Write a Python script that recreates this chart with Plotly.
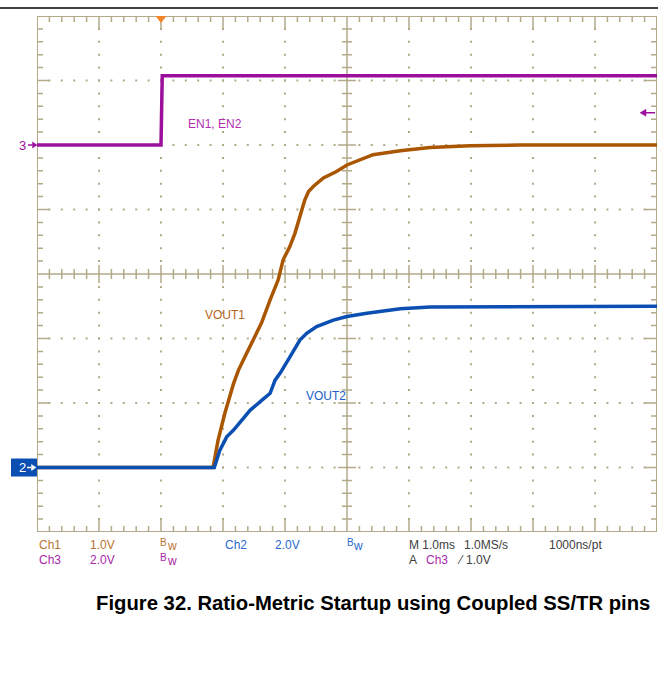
import plotly.graph_objects as go

# ---- canvas / plot-area geometry (pixels) ----
W, H = 658, 677
L, R, T, B = 37, 1, 16, 145
PW = W - L - R          # plot width
PH = H - T - B          # plot height

# ---- scope setup ----
T_START, T_END = -2.0, 8.0      # ms, 1 ms/div, trigger 2 div from left
N_HDIV, N_VDIV = 10, 8
CH1_SCALE, CH1_GND = 1.0, 1.0   # VOUT1: 1.0 V/div
CH2_SCALE, CH2_GND = 2.0, 1.0   # VOUT2: 2.0 V/div
CH3_SCALE, CH3_GND = 2.0, 6.0   # EN1/EN2: 2.0 V/div
TRIG_LEVEL = 1.0                # V on Ch3

# ---- captured waveforms (time in ms, amplitude in V) ----
en_t = [-2.0, 0.0, 0.02, 8.0]
en_v = [0.0, 0.0, 2.15, 2.15]

vout1_t = [-2.0, 0.84, 0.92, 1.03, 1.17, 1.25, 1.33, 1.49, 1.62, 1.76, 1.89,
           1.97, 2.08, 2.16, 2.24, 2.32, 2.38, 2.46, 2.62, 2.83, 3.00, 3.21,
           3.42, 3.86, 4.34, 4.98, 5.79, 8.0]
vout1_v = [0.0, 0.0, 0.42, 0.84, 1.30, 1.51, 1.67, 1.98, 2.24, 2.60, 2.91,
           3.22, 3.43, 3.63, 3.89, 4.15, 4.28, 4.36, 4.49, 4.59, 4.69, 4.77,
           4.85, 4.91, 4.96, 4.99, 5.0, 5.0]

vout2_t = [-2.0, 0.86, 0.95, 1.06, 1.17, 1.33, 1.44, 1.60, 1.76, 1.84, 1.92,
           2.08, 2.24, 2.35, 2.51, 2.78, 3.00, 3.32, 3.86, 4.34, 5.15, 8.0]
vout2_v = [0.0, 0.0, 0.54, 0.95, 1.16, 1.52, 1.78, 2.04, 2.30, 2.71, 2.92,
           3.43, 3.95, 4.16, 4.37, 4.57, 4.68, 4.78, 4.92, 4.98, 4.99, 5.0]

# ---- colours ----
FRAME = "#b3aa8a"
C_EN = "#9c0f9c"
C_V1 = "#aa5500"
C_V2 = "#0b4fb3"
T_CH1 = "#b87333"
T_CH2 = "#2a6ad0"
T_CH3 = "#a828a8"
T_GRAY = "#404040"


def to_div(values, scale, gnd):
    return [gnd + v / scale for v in values]


def px_x(px):
    return (px - L) / PW


def px_y(py):
    return (H - B - py) / PH


XU = PW / N_HDIV   # px per ms
YU = PH / N_VDIV   # px per division

fig = go.Figure()

# dotted graticule: dots every 1/5 division along the major lines
gx, gy = [], []
for i in range(1, N_HDIV):
    if i == N_HDIV // 2:
        continue
    for j in range(1, N_VDIV * 5):
        gx.append(T_START + i)
        gy.append(j * 0.2)
for j in range(1, N_VDIV):
    if j == N_VDIV // 2:
        continue
    for i in range(1, N_HDIV * 5):
        gx.append(T_START + i * 0.2)
        gy.append(j)
fig.add_trace(go.Scatter(x=gx, y=gy, mode="markers",
                         marker=dict(symbol="square", size=2, color=FRAME),
                         hoverinfo="skip"))

# frame ticks and centre crosshair
segs = []
for i in range(0, N_HDIV * 5 + 1):
    x = T_START + i * 0.2
    ln = (12 if i % 5 == 0 else 6) / YU
    segs.append(f"M{x},{N_VDIV} L{x},{N_VDIV - ln}")
    segs.append(f"M{x},0 L{x},{ln}")
    c = (9 if i % 5 == 0 else 5) / YU
    segs.append(f"M{x},{N_VDIV / 2 - c} L{x},{N_VDIV / 2 + c}")
for j in range(0, N_VDIV * 5 + 1):
    y = j * 0.2
    ln = (12 if j % 5 == 0 else 6) / XU
    segs.append(f"M{T_START},{y} L{T_START + ln},{y}")
    segs.append(f"M{T_END},{y} L{T_END - ln},{y}")
    c = (9 if j % 5 == 0 else 5) / XU
    xc = (T_START + T_END) / 2
    segs.append(f"M{xc - c},{y} L{xc + c},{y}")
segs.append(f"M{T_START},{N_VDIV / 2} L{T_END},{N_VDIV / 2}")
segs.append(f"M{(T_START + T_END) / 2},0 L{(T_START + T_END) / 2},{N_VDIV}")

# pixel rows of the channel markers
y2 = (N_VDIV - CH2_GND) * YU + T
y3 = (N_VDIV - CH3_GND) * YU + T
yt = (N_VDIV - CH3_GND - TRIG_LEVEL / CH3_SCALE) * YU + T


def arrow(x_tail, x_head, py, color, head=4.5, half=3.0, width=1.5):
    """Horizontal arrow in pixel space: shaft line plus filled head."""
    d = 1 if x_head > x_tail else -1
    xb = x_head - d * head
    return [
        dict(type="line", xref="paper", yref="paper",
             x0=px_x(x_tail), x1=px_x(xb), y0=px_y(py), y1=px_y(py),
             line=dict(color=color, width=width)),
        dict(type="path", xref="paper", yref="paper",
             path=(f"M{px_x(x_head)},{px_y(py)} L{px_x(xb)},{px_y(py - half)} "
                   f"L{px_x(xb)},{px_y(py + half)} Z"),
             fillcolor=color, line=dict(color=color, width=0.5)),
    ]


shapes = [
    dict(type="path", path=" ".join(segs), xref="x", yref="y",
         line=dict(color=FRAME, width=1.5), layer="below"),
    dict(type="rect", x0=T_START, x1=T_END, y0=0, y1=N_VDIV, xref="x", yref="y",
         line=dict(color=FRAME, width=2), layer="below"),
    # trigger position marker
    dict(type="path", xref="x", yref="y",
         path=f"M{-5.5 / XU},{N_VDIV} L{5.5 / XU},{N_VDIV} L0,{N_VDIV - 7 / YU} Z",
         fillcolor="#f5852a", line=dict(color="#f5852a", width=0)),
    # Ch2 ground marker box
    dict(type="rect", xref="paper", yref="paper", x0=px_x(11), x1=px_x(37),
         y0=px_y(y2 + 9), y1=px_y(y2 - 9), fillcolor=C_V2, line=dict(width=0)),
    # page rule
    dict(type="line", xref="paper", yref="paper", x0=px_x(0), x1=px_x(W),
         y0=px_y(8), y1=px_y(8), line=dict(color="black", width=1.5)),
]
shapes += arrow(27, 36, y2, "white")
shapes += arrow(28, 37, y3, C_EN)
shapes += arrow(655, 640, yt, C_EN, head=6, half=3.5)

# waveforms
fig.add_trace(go.Scatter(x=en_t, y=to_div(en_v, CH3_SCALE, CH3_GND), mode="lines",
                         line=dict(color=C_EN, width=3.5), hoverinfo="skip"))
fig.add_trace(go.Scatter(x=vout1_t, y=to_div(vout1_v, CH1_SCALE, CH1_GND), mode="lines",
                         line=dict(color=C_V1, width=3.5), hoverinfo="skip"))
fig.add_trace(go.Scatter(x=vout2_t, y=to_div(vout2_v, CH2_SCALE, CH2_GND), mode="lines",
                         line=dict(color=C_V2, width=3.5), hoverinfo="skip"))

FONT = "Liberation Sans, Arial, sans-serif"
ann = []


def label(text, x, y, color, size=12, xanchor="left", xref="paper", yref="paper", **kw):
    ann.append(dict(text=text, x=x, y=y, xref=xref, yref=yref, xanchor=xanchor,
                    yanchor="middle", showarrow=False,
                    font=dict(family=FONT, size=size, color=color), **kw))


def at(text, px, py, color, size=12, xanchor="left"):
    label(text, px_x(px), px_y(py), color, size=size, xanchor=xanchor)


# trace labels
label("EN1, EN2", 0.41, 6.33, "#b030b0", xref="x", yref="y")
label("VOUT1", 0.68, 3.37, "#b8641c", xref="x", yref="y")
label("VOUT2", 2.31, 2.11, "#2060c8", xref="x", yref="y")

# channel ground marker numbers
at("2", 17, y2, "white", size=13)
at("3", 17, y3, C_EN, size=13)


def bw(px, py, color):
    at("B", px, py - 2.5, color, size=10)
    at("w", px + 6.5, py + 0.5, color, size=12)


# readout rows
r1, r2 = 545, 560
at("Ch1", 37, r1, T_CH1)
at(f"{CH1_SCALE:.1f}V", 88, r1, T_CH1)
bw(158, r1, T_CH1)
at("Ch2", 223, r1, T_CH2)
at(f"{CH2_SCALE:.1f}V", 273, r1, T_CH2)
bw(345, r1, T_CH2)
at("M 1.0ms", 407, r1, T_GRAY)
at("1.0MS/s", 462, r1, T_GRAY)
at("1000ns/pt", 547, r1, T_GRAY)
at("Ch3", 37, r2, T_CH3)
at(f"{CH3_SCALE:.1f}V", 88, r2, T_CH3)
bw(158, r2, T_CH3)
at("A", 407, r2, T_GRAY)
at("Ch3", 424, r2, T_CH3)
at("⁄", 455, r2, T_GRAY)
at(f"{TRIG_LEVEL:.1f}V", 464, r2, T_GRAY)

# caption
at("<b>Figure 32. Ratio-Metric Startup using Coupled SS/TR pins</b>",
   652, 603, "black", size=20.3, xanchor="right")

fig.update_layout(
    width=W, height=H,
    margin=dict(l=L, r=R, t=T, b=B, pad=0),
    paper_bgcolor="white", plot_bgcolor="white",
    showlegend=False, hovermode=False,
    xaxis=dict(range=[T_START, T_END], showgrid=False, zeroline=False,
               showticklabels=False, ticks="", showline=False, fixedrange=True),
    yaxis=dict(range=[0, N_VDIV], showgrid=False, zeroline=False,
               showticklabels=False, ticks="", showline=False, fixedrange=True),
    shapes=shapes, annotations=ann,
)

fig.write_html("out.html")
